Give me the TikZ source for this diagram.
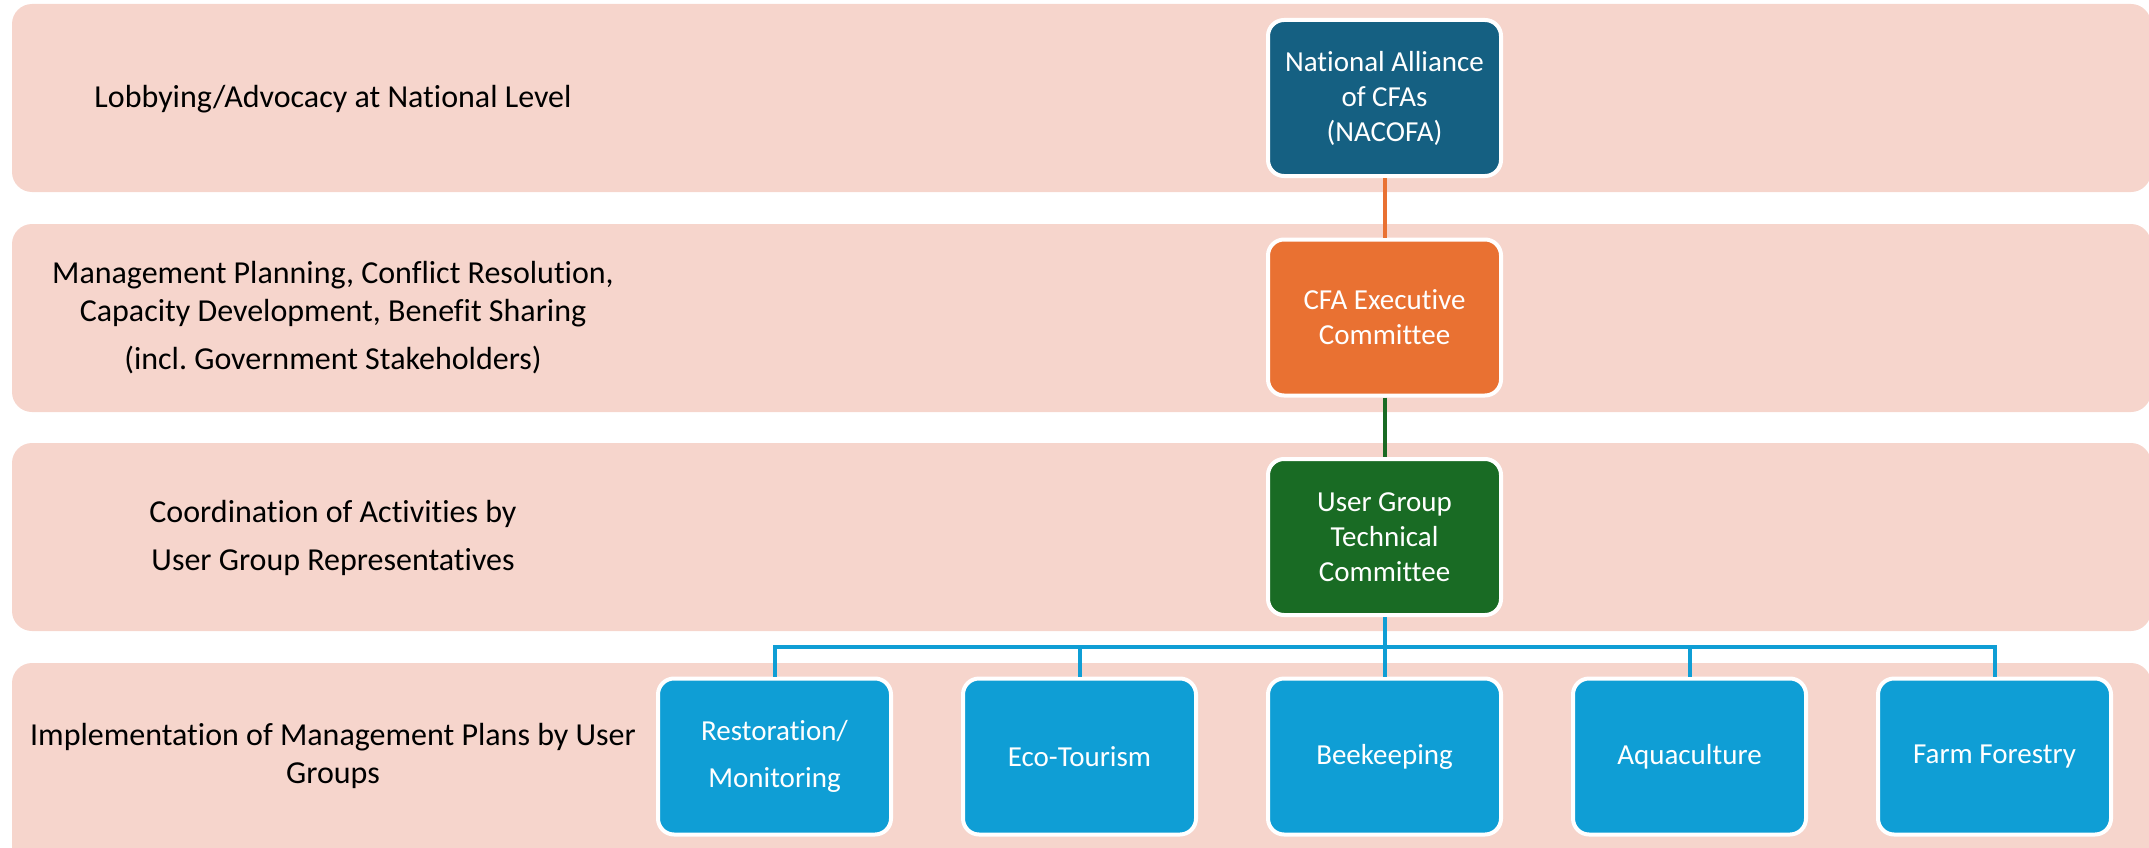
\documentclass[tikz,border=0pt]{standalone}
\usepackage{fontspec}
\setmainfont{Carlito}[Ligatures=NoCommon]
\definecolor{bandc}{HTML}{F6D5CC}
\definecolor{navyc}{HTML}{156082}
\definecolor{orangec}{HTML}{E97132}
\definecolor{greenc}{HTML}{196B24}
\definecolor{bluec}{HTML}{0F9ED5}
\frenchspacing
\begin{document}
\begin{tikzpicture}[x=1pt,y=-1pt,
  bandbox/.style={fill=bandc, rounded corners=20pt},
  orgbox/.style={draw=white, line width=4pt, rounded corners=16pt,
    minimum width=233pt, minimum height=156pt, inner sep=0pt,
    text=white, align=center, font=\fontsize{29}{35}\selectfont},
  lbl/.style={align=center, text=black, inner sep=0pt, font=\fontsize{32}{38}\selectfont},
  conn/.style={line width=4pt}]
\useasboundingbox (0,0) rectangle (2149,848);
\begin{scope}
\clip (0,0) rectangle (2149,848);
\fill[bandbox] (12,4) rectangle (2151,192);
\fill[bandbox] (12,224) rectangle (2151,412);
\fill[bandbox] (12,443) rectangle (2151,631);
\fill[bandbox] (12,663) rectangle (2151,870);
\end{scope}

\node[lbl] (l1) at (333,99) {Lobbying/Advocacy at National Level};
\node[lbl] (l2) at (333,318) {Management Planning, Conflict Resolution,\\Capacity Development, Benefit Sharing\\[10pt](incl. Government Stakeholders)};
\node[lbl] (l3) at (333,538) {Coordination of Activities by\\[10pt]User Group Representatives};
\node[lbl] (l4) at (333,756) {Implementation of Management Plans by User\\Groups};

\node[orgbox, fill=navyc] (nac) at (1384.5,98) {National Alliance\\of CFAs\\(NACOFA)};
\node[orgbox, fill=orangec] (cfa) at (1384.5,317.5) {CFA Executive\\Committee};
\node[orgbox, fill=greenc] (ugt) at (1384.5,537) {User Group\\Technical\\Committee};

\node[orgbox, fill=bluec] (b1) at (774.5,756.5) {Restoration/\\[12pt]Monitoring};
\node[orgbox, fill=bluec] (b2) at (1079.5,756.5) {Eco-Tourism};
\node[orgbox, fill=bluec] (b3) at (1384.5,756.5) {Beekeeping};
\node[orgbox, fill=bluec] (b4) at (1689.5,756.5) {Aquaculture};
\node[orgbox, fill=bluec] (b5) at (1994.5,756.5) {Farm Forestry};

\coordinate (bus) at (1384.5,647);
\draw[conn, orangec] (nac.south) -- (cfa.north);
\draw[conn, greenc] (cfa.south) -- (ugt.north);
\draw[conn, bluec] (ugt.south) -- (bus);
\draw[conn, bluec] (b1.north) -- (b1.north |- bus) -- (b5.north |- bus) -- (b5.north);
\draw[conn, bluec] (b2.north) -- (b2.north |- bus);
\draw[conn, bluec] (b3.north) -- (b3.north |- bus);
\draw[conn, bluec] (b4.north) -- (b4.north |- bus);
\end{tikzpicture}
\end{document}
